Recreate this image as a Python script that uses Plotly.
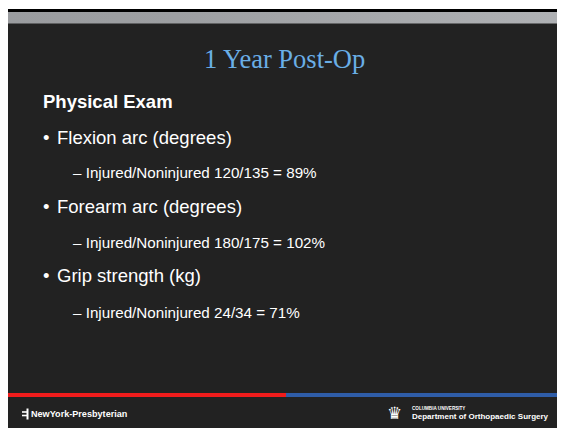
import plotly.graph_objects as go

# ---- content (data) ----
title_text = "1 Year Post-Op"
section_title = "Physical Exam"
measures = ["Flexion arc (degrees)", "Forearm arc (degrees)", "Grip strength (kg)"]
injured = [120, 180, 24]
noninjured = [135, 175, 34]
ratio_pct = [89, 102, 71]
left_logo = "NewYork-Presbyterian"
right_logo_top = "COLUMBIA UNIVERSITY"
right_logo_bottom = "Department of Orthopaedic Surgery"

# ---- layout constants ----
W, H = 565, 428
OFF = 8  # page body margin: axis ranges chosen so data coords == page pixels
BG = "#222222"
SANS = "Arial, Liberation Sans, sans-serif"
SERIF = "Book Antiqua, Palatino Linotype, Liberation Serif, serif"

fig = go.Figure()

# gray gradient header bar
fig.add_trace(go.Scatter(
    x=[7, W + OFF, W + OFF, 7, 7], y=[12, 12, 23.5, 23.5, 12],
    mode="lines", line=dict(width=0), fill="toself",
    fillgradient=dict(type="horizontal",
                      colorscale=[[0, "#9a9c9f"], [0.3, "#9d9fa2"], [1, "#b0b2b5"]]),
    hoverinfo="skip", showlegend=False))

shapes = [
    dict(type="rect", x0=5, x1=W + OFF, y0=9, y1=H + OFF, fillcolor="#000000", line_width=0, layer="below"),
    dict(type="rect", x0=7, x1=W + OFF, y0=12, y1=H + OFF, fillcolor=BG, line_width=0, layer="below"),
    dict(type="rect", x0=7, x1=286, y0=393, y1=397, fillcolor="#f01c1c", line_width=0, layer="above"),
    dict(type="rect", x0=286, x1=W + OFF, y0=393, y1=397, fillcolor="#2f5da8", line_width=0, layer="above"),
    # left logo mark
    dict(type="line", x0=27.5, x1=27.5, y0=408.5, y1=419.5, line=dict(color="#ffffff", width=2)),
    dict(type="line", x0=22, x1=27.5, y0=412, y1=412, line=dict(color="#ffffff", width=1.6)),
    dict(type="line", x0=22, x1=27.5, y0=415.5, y1=415.5, line=dict(color="#ffffff", width=1.6)),
]

ann = []
def text(x, y, s, size, color="#ffffff", family=SANS, xanchor="left", bold=False):
    if bold:
        s = "<b>" + s + "</b>"
    ann.append(dict(x=x, y=y, xref="x", yref="y", text=s, showarrow=False,
                    xanchor=xanchor, yanchor="middle", borderpad=0,
                    font=dict(size=size, color=color, family=family)))

# title
text(284, 59, title_text, 26.5, color="#6aaee6", family=SERIF, xanchor="center")
# section
text(42, 101.6, section_title, 18.5, bold=True)

bullet_base = [144.3, 213.3, 282.3]
sub_base = [177.7, 247.3, 317.3]
for i, m in enumerate(measures):
    bsz, ssz = 18.5, 15.2
    text(41.5, bullet_base[i] - 0.3465 * bsz, "•", bsz)
    text(56, bullet_base[i] - 0.3465 * bsz, m, bsz)
    sub = f"– Injured/Noninjured {injured[i]}/{noninjured[i]} = {ratio_pct[i]}%"
    text(71.5, sub_base[i] - 0.3465 * ssz, sub, ssz)

# footer logos
text(29.5, 414, left_logo, 9.1, bold=True)
text(386, 412.5, "♛", 17, family="DejaVu Sans")
text(411, 408.5, right_logo_top, 4.6, bold=True)
text(411, 416, right_logo_bottom, 8.0, bold=True)

fig.update_layout(
    width=W, height=H,
    margin=dict(l=0, r=0, t=0, b=0),
    paper_bgcolor="#ffffff", plot_bgcolor="#ffffff",
    xaxis=dict(range=[OFF, W + OFF], visible=False, fixedrange=True),
    yaxis=dict(range=[H + OFF, OFF], visible=False, fixedrange=True),
    shapes=shapes, annotations=ann, showlegend=False,
)

fig.write_html("out.html", config={"displayModeBar": False})
